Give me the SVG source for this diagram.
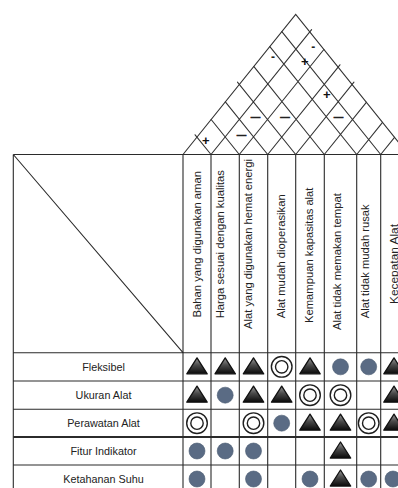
<svg xmlns="http://www.w3.org/2000/svg" width="398" height="488" viewBox="0 0 398 488">
<style>
.ln{stroke:#2b2b2b;stroke-width:1.1;fill:none}
.rf{stroke:#333;stroke-width:1.1;fill:none;stroke-linecap:round}
.thick{stroke:#2b2b2b;stroke-width:2.2;fill:none}
.hd{font-family:"Liberation Sans",Arial,sans-serif;font-size:10.3px;fill:#222}
.lb{font-family:"Liberation Sans",Arial,sans-serif;font-size:10.8px;fill:#222;text-anchor:middle}
.pl{font-family:"Liberation Sans",Arial,sans-serif;font-size:13px;font-weight:bold;fill:#111;text-anchor:middle}
.mn{font-family:"Liberation Sans",Arial,sans-serif;font-size:9.5px;font-weight:bold;fill:#222;stroke:#222;stroke-width:0.5;text-anchor:middle}
.hy{font-family:"Liberation Sans",Arial,sans-serif;font-size:12px;font-weight:bold;fill:#222;text-anchor:middle}
.dot{fill:#5a6b84;stroke:#4c5c72;stroke-width:0.6}
.ring{fill:none;stroke:#1e1e1e;stroke-width:1.4}
</style>
<defs>
<linearGradient id="tg" x1="0" y1="0" x2="0" y2="1">
<stop offset="0" stop-color="#9a9a9a"/>
<stop offset="0.45" stop-color="#4a4a4a"/>
<stop offset="1" stop-color="#0a0a0a"/>
</linearGradient>
<path id="tri" d="M0,-9 L10.2,7 L-10.2,7 Z" fill="url(#tg)" stroke="#111" stroke-width="1.3" stroke-linejoin="round"/>
<g id="dbl"><circle r="10.3" class="ring"/><circle r="6.2" class="ring"/></g>
<circle id="dt" r="8" class="dot"/>
</defs>

<g id="roof">
<path class="rf" d="M183,154.5 L295.7,14.5 L408.4,154.5"/>
<path class="rf" d="M211,154.5 L311.6,29.6 M211,154.5 L195.1,134.8
M239.3,154.5 L323.85,49.5 M239.3,154.5 L211.15,119.5
M267.7,154.5 L339.95,64.8 M267.7,154.5 L225.35,101.9
M295.7,154.5 L353.95,82.2 M295.7,154.5 L237.45,82.2
M324.3,154.5 L366.35,102.3 M324.3,154.5 L253.95,66.7
M356.7,154.5 L382.55,122.4 M356.7,154.5 L269.85,46.6
M380.7,154.5 L394.55,137.3 M380.7,154.5 L281.85,31.7"/>
<text class="pl" x="205.7" y="144.6">+</text>
<text class="mn" x="241.5" y="138.4">—</text>
<text class="mn" x="255.5" y="119.7">—</text>
<text class="mn" x="285" y="119.7">—</text>
<text class="mn" x="338.5" y="119.7">—</text>
<text class="pl" x="326.7" y="98.6">+</text>
<text class="pl" x="304.7" y="66.3">+</text>
<text class="hy" x="273" y="60.6">-</text>
<text class="hy" x="313.3" y="50.8">-</text>
</g>

<g id="grid-lines">
<path class="ln" d="M13.3,154.5 H398 M13.3,154.5 V488 M13.3,154.5 L183,352.7 M13.3,352.7 H398 M13.3,381 H398 M13.3,409.3 H398 M13.3,465 H398"/>
<path class="thick" d="M13.3,437 H398"/>
<path class="ln" d="M183,154.5 V488 M211,154.5 V488 M239.3,154.5 V488 M267.7,154.5 V488 M295.7,154.5 V488 M324.3,154.5 V488 M356.7,154.5 V488 M380.7,154.5 V488"/>
</g>

<g id="col-1"><text class="hd" transform="translate(200.6,317.5) rotate(-90)" textLength="146.5" lengthAdjust="spacingAndGlyphs">Bahan yang digunakan aman</text></g>
<g id="col-2"><text class="hd" transform="translate(223.6,318.3) rotate(-90)" textLength="148.3" lengthAdjust="spacingAndGlyphs">Harga sesuai dengan kualitas</text></g>
<g id="col-3"><text class="hd" transform="translate(252,329) rotate(-90)" textLength="170" lengthAdjust="spacingAndGlyphs">Alat yang digunakan hemat energi</text></g>
<g id="col-4"><text class="hd" transform="translate(284.5,318.3) rotate(-90)" textLength="124" lengthAdjust="spacingAndGlyphs">Alat mudah dioperasikan</text></g>
<g id="col-5"><text class="hd" transform="translate(312.5,323) rotate(-90)" textLength="135.5" lengthAdjust="spacingAndGlyphs">Kemampuan kapasitas alat</text></g>
<g id="col-6"><text class="hd" transform="translate(340.5,330) rotate(-90)" textLength="137" lengthAdjust="spacingAndGlyphs">Alat tidak memakan tempat</text></g>
<g id="col-7"><text class="hd" transform="translate(369,318.3) rotate(-90)" textLength="114" lengthAdjust="spacingAndGlyphs">Alat tidak mudah rusak</text></g>
<g id="col-8"><text class="hd" transform="translate(397.5,304) rotate(-90)" textLength="80" lengthAdjust="spacingAndGlyphs">Kecepatan Alat</text></g>

<g id="row-1">
<text class="lb" x="103.5" y="370.7">Fleksibel</text>
<use href="#tri" x="197" y="366.85"/>
<use href="#tri" x="225.2" y="366.85"/>
<use href="#tri" x="253.5" y="366.85"/>
<use href="#dbl" x="281.7" y="366.85"/>
<use href="#tri" x="310" y="366.85"/>
<use href="#dt" x="340.5" y="366.85"/>
<use href="#dt" x="368.7" y="366.85"/>
<use href="#tri" x="394" y="366.85"/>
</g>
<g id="row-2">
<text class="lb" x="103.5" y="399">Ukuran Alat</text>
<use href="#tri" x="197" y="395.15"/>
<use href="#dt" x="225.2" y="395.15"/>
<use href="#tri" x="253.5" y="395.15"/>
<use href="#tri" x="281.7" y="395.15"/>
<use href="#dbl" x="310" y="395.15"/>
<use href="#dbl" x="340.5" y="395.15"/>
<use href="#tri" x="394" y="395.15"/>
</g>
<g id="row-3">
<text class="lb" x="103.5" y="427">Perawatan Alat</text>
<use href="#dbl" x="197" y="423.15"/>
<use href="#dbl" x="253.5" y="423.15"/>
<use href="#dt" x="281.7" y="423.15"/>
<use href="#tri" x="310" y="423.15"/>
<use href="#tri" x="340.5" y="423.15"/>
<use href="#dbl" x="368.7" y="423.15"/>
<use href="#tri" x="394" y="423.15"/>
</g>
<g id="row-4">
<text class="lb" x="103.5" y="454.9">Fitur Indikator</text>
<use href="#dt" x="197" y="451"/>
<use href="#dt" x="225.2" y="451"/>
<use href="#dt" x="253.5" y="451"/>
<use href="#tri" x="340.5" y="451"/>
</g>
<g id="row-5">
<text class="lb" x="103.5" y="482.9">Ketahanan Suhu</text>
<use href="#dt" x="197" y="479"/>
<use href="#dt" x="253.5" y="479"/>
<use href="#dt" x="310" y="479"/>
<use href="#tri" x="340.5" y="479"/>
<use href="#dt" x="368.7" y="479"/>
<use href="#dt" x="393" y="479"/>
</g>
</svg>
